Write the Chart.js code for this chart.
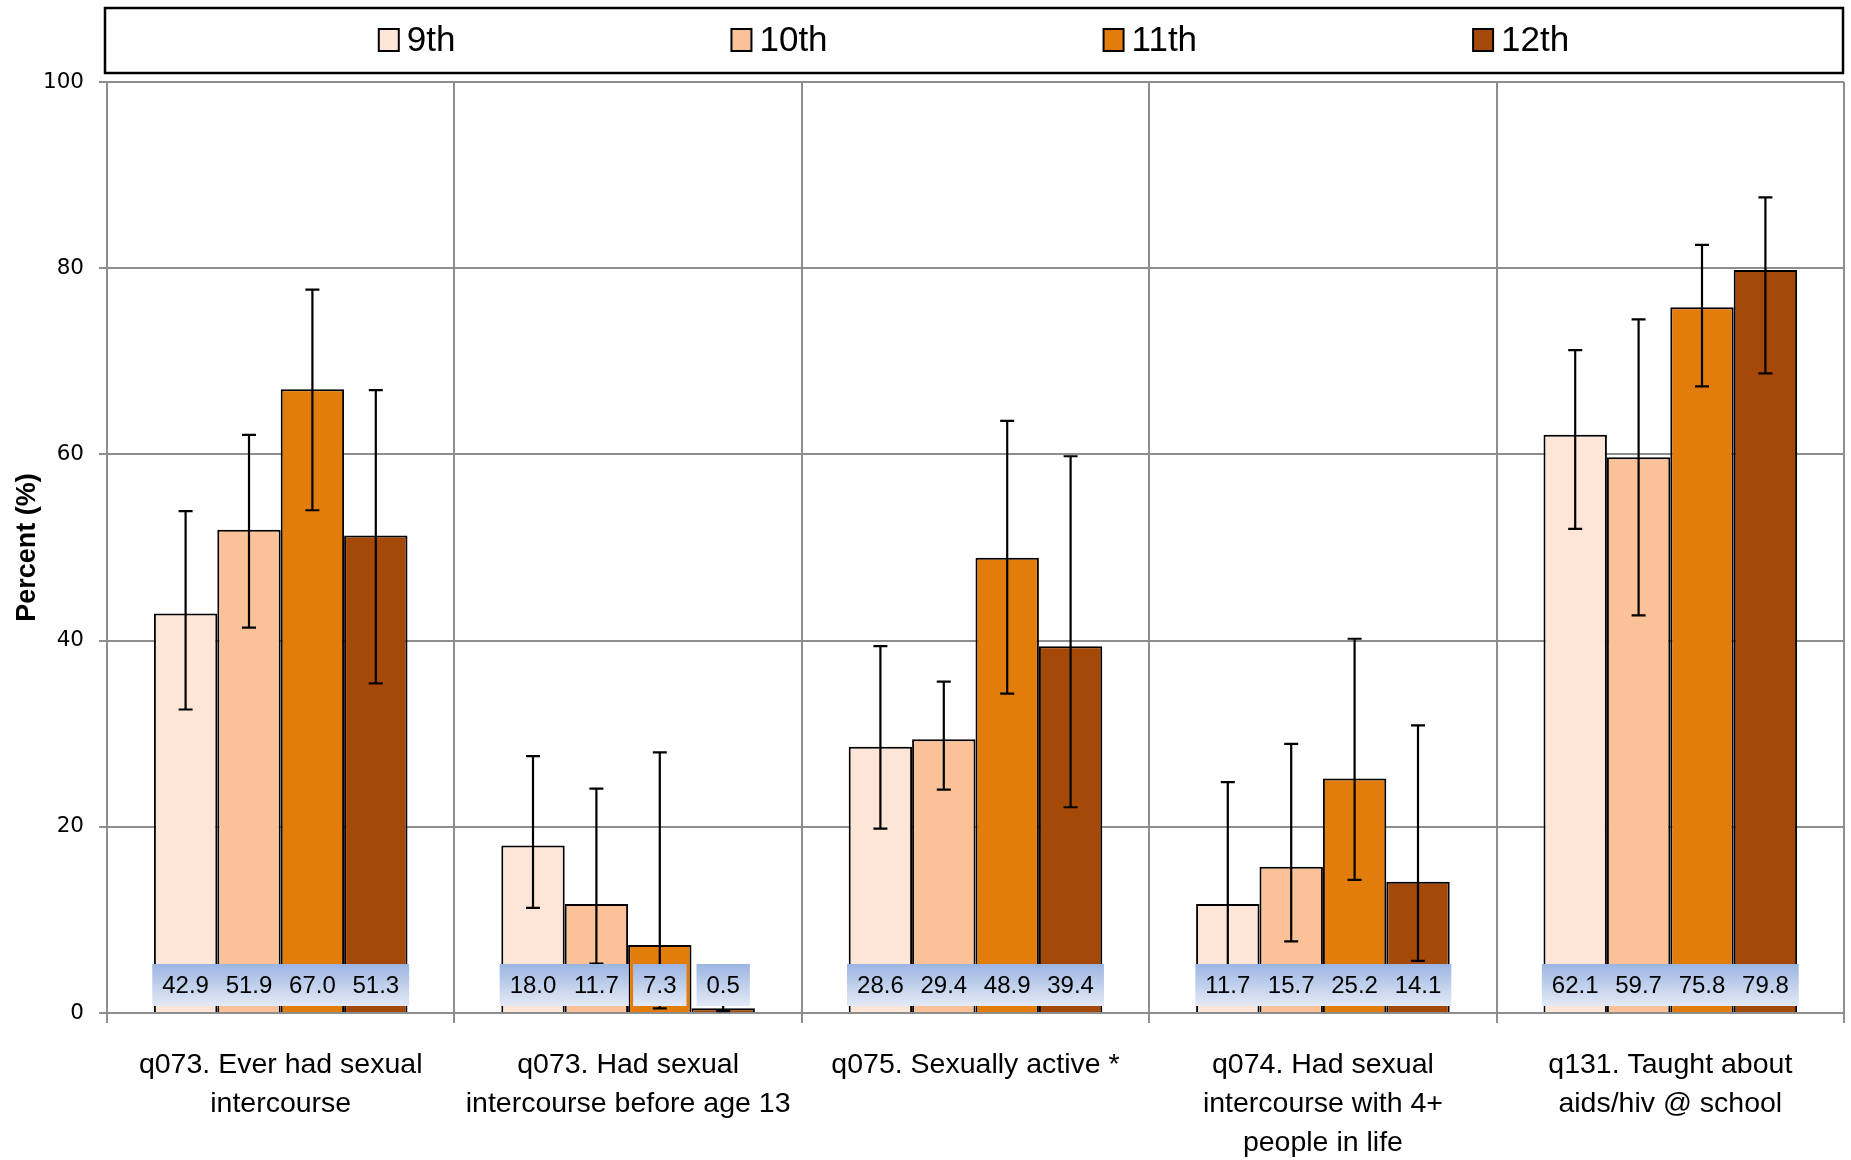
<!DOCTYPE html>
<html>
<head>
<meta charset="utf-8">
<script src="https://cdn.jsdelivr.net/npm/chart.js@4"></script>
<style>
  html, body { margin: 0; padding: 0; background: #fff; }
  canvas { display: block; }
</style>
</head>
<body>
<canvas id="myChart" width="1851" height="1160"></canvas>
<script>
const categories = [
    ['q073. Ever had sexual', 'intercourse'],
    ['q073. Had sexual', 'intercourse before age 13'],
    ['q075. Sexually active *'],
    ['q074. Had sexual', 'intercourse with 4+', 'people in life'],
    ['q131. Taught about', 'aids/hiv @ school']
];
const grades = ['9th', '10th', '11th', '12th'];
const gradeColors = ['#fde5d8', '#fbc299', '#e27c0a', '#a44908'];

const grade9 = [42.9, 18.0, 28.6, 11.7, 62.1];
const grade10 = [51.9, 11.7, 29.4, 15.7, 59.7];
const grade11 = [67.0, 7.3, 48.9, 25.2, 75.8];
const grade12 = [51.3, 0.5, 39.4, 14.1, 79.8];

// confidence intervals (lower / upper)
const low9 = [32.6, 11.3, 19.8, 3.5, 52.0];
const high9 = [53.9, 27.6, 39.4, 24.8, 71.2];
const low10 = [41.4, 5.3, 24.0, 7.7, 42.7];
const high10 = [62.1, 24.1, 35.6, 28.9, 74.5];
const low11 = [54.0, 0.5, 34.3, 14.3, 67.3];
const high11 = [77.7, 28.0, 63.6, 40.2, 82.5];
const low12 = [35.4, 0.2, 22.1, 5.6, 68.7];
const high12 = [66.9, 1.5, 59.8, 30.9, 87.6];

const yTicks = [0, 20, 40, 60, 80, 100];

const values = [grade9, grade10, grade11, grade12];
const lows = [low9, low10, low11, low12];
const highs = [high9, high10, high11, high12];

const errorBars = {
    id: 'errorBars',
    afterDatasetsDraw(chart) {
        const ctx = chart.ctx;
        const y = chart.scales.y;
        ctx.save();
        ctx.strokeStyle = '#000';
        ctx.lineWidth = 2.2;
        chart.data.datasets.forEach((ds, d) => {
            chart.getDatasetMeta(d).data.forEach((bar, i) => {
                const top = y.getPixelForValue(ds.high[i]);
                const bot = y.getPixelForValue(ds.low[i]);
                ctx.beginPath();
                ctx.moveTo(bar.x, top); ctx.lineTo(bar.x, bot);
                ctx.moveTo(bar.x - 7, top); ctx.lineTo(bar.x + 7, top);
                ctx.moveTo(bar.x - 7, bot); ctx.lineTo(bar.x + 7, bot);
                ctx.stroke();
            });
        });
        // value label boxes along the bottom
        const base = chart.chartArea.bottom;
        const bTop = base - 49, bH = 42;
        ctx.font = '24px "Liberation Sans", Arial, sans-serif';
        ctx.textAlign = 'center';
        ctx.textBaseline = 'middle';
        chart.data.datasets.forEach((ds, d) => {
            chart.getDatasetMeta(d).data.forEach((bar, i) => {
                const txt = ds.data[i].toFixed(1);
                const w = ctx.measureText(txt).width + 20;
                const g = ctx.createLinearGradient(0, bTop, 0, bTop + bH);
                g.addColorStop(0, '#9bb5e2');
                g.addColorStop(1, '#e4eaf6');
                ctx.fillStyle = g;
                ctx.fillRect(bar.x - w / 2, bTop, w, bH);
            });
        });
        ctx.fillStyle = '#000';
        chart.data.datasets.forEach((ds, d) => {
            chart.getDatasetMeta(d).data.forEach((bar, i) => {
                ctx.fillText(ds.data[i].toFixed(1), bar.x, bTop + bH / 2 + 1);
            });
        });
        ctx.restore();
    }
};

const boxLegend = {
    id: 'boxLegend',
    afterDraw(chart) {
        const ctx = chart.ctx;
        ctx.save();
        ctx.lineWidth = 2.5;
        ctx.strokeStyle = '#000';
        ctx.strokeRect(105, 8, 1738, 65);
        ctx.font = '35px "Liberation Sans", Arial, sans-serif';
        ctx.textBaseline = 'middle';
        ctx.textAlign = 'left';
        const items = chart.data.datasets.map(ds => ({
            text: ds.label,
            color: ds.backgroundColor,
            w: ctx.measureText(ds.label).width
        }));
        const gap = 276;
        let total = gap * (items.length - 1);
        items.forEach(it => { total += 28 + it.w; });
        let x = (105 + 1843) / 2 - total / 2;
        ctx.lineWidth = 2;
        items.forEach(it => {
            ctx.fillStyle = it.color;
            ctx.fillRect(x, 29, 20, 22);
            ctx.strokeRect(x, 29, 20, 22);
            ctx.fillStyle = '#000';
            ctx.fillText(it.text, x + 28, 41);
            x += 28 + it.w + gap;
        });
        ctx.restore();
    }
};

const chart = new Chart(document.getElementById('myChart'), {
    type: 'bar',
    data: {
        labels: categories,
        datasets: grades.map((g, k) => ({
            label: g,
            data: values[k],
            low: lows[k],
            high: highs[k],
            backgroundColor: gradeColors[k],
            borderColor: '#000',
            borderWidth: 2,
            categoryPercentage: 0.73,
            barPercentage: 1.0
        }))
    },
    options: {
        responsive: false,
        animation: false,
        layout: {
            padding: { top: 82, right: 7, left: 0, bottom: 0 }
        },
        plugins: {
            legend: { display: false },
            tooltip: { enabled: false }
        },
        scales: {
            x: {
                afterFit(scale) { scale.height = 147; },
                grid: {
                    color: '#8e8e8e',
                    lineWidth: 2,
                    tickLength: 10
                },
                border: { color: '#8e8e8e', width: 2 },
                ticks: {
                    color: '#000',
                    padding: 23,
                    maxRotation: 0,
                    autoSkip: false,
                    font: { family: '"Liberation Sans", Arial, sans-serif', size: 28.5, lineHeight: 1.37 }
                }
            },
            y: {
                min: 0,
                max: 100,
                afterFit(scale) { scale.width = 107; },
                afterBuildTicks(scale) { scale.ticks = yTicks.map(v => ({ value: v })); },
                grid: {
                    color: '#8e8e8e',
                    lineWidth: 2,
                    tickLength: 8
                },
                border: { color: '#8e8e8e', width: 2 },
                ticks: {
                    color: '#000',
                    padding: 15,
                    font: { family: '"DejaVu Sans", Verdana, sans-serif', size: 21.5 }
                },
                title: {
                    display: true,
                    text: 'Percent (%)',
                    color: '#000',
                    padding: { top: 11, bottom: 0 },
                    font: { family: '"Liberation Sans", Arial, sans-serif', size: 27, weight: 'bold' }
                }
            }
        }
    },
    plugins: [errorBars, boxLegend]
});
</script>
</body>
</html>
